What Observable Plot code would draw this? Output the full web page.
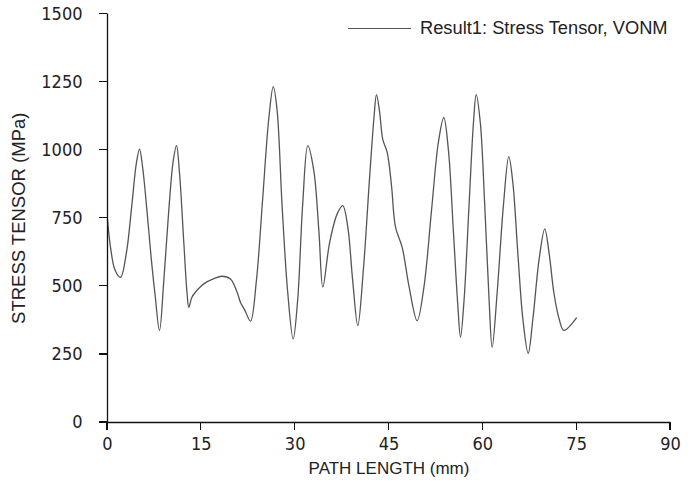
<!DOCTYPE html>
<html><head><meta charset="utf-8">
<script src="https://cdn.jsdelivr.net/npm/d3@7"></script>
<script src="https://cdn.jsdelivr.net/npm/@observablehq/plot@0.6"></script>
<style>
body{margin:0;background:#fff;}
#wrap{position:relative;width:692px;height:486px;}
#legend{position:absolute;left:348px;top:18px;height:20px;font-size:18.3px;font-family:"Liberation Sans",Arial,sans-serif;color:#222;display:flex;align-items:center;white-space:nowrap;}
#legend .sw{display:inline-block;width:63px;height:0;border-top:1.3px solid #555;margin-right:9px;}
</style></head><body>
<div id="wrap"><div id="legend"><span class="sw"></span><span id="legtext"></span></div></div>
<script>
const seriesName = "Result1: Stress Tensor, VONM";
const xTitle = "PATH LENGTH (mm)";
const yTitle = "STRESS TENSOR (MPa)";
const xTicks = [0, 15, 30, 45, 60, 75, 90];
const yTicks = [0, 250, 500, 750, 1000, 1250, 1500];
const pathLength = [0,0.5,1.2,2.08,3.0,3.9,4.6,5.12,5.6,6.3,7.0,7.6,8.31,9.0,9.8,10.5,11.03,11.5,12.2,12.7,13.0,13.5,14.5,15.4,17.0,18.33,19.66,20.73,21.26,22.0,22.86,23.8,24.8,25.8,26.5,27.1,27.9,28.8,29.68,30.4,31.2,32.02,32.98,33.8,34.42,35.5,36.72,37.61,38.4,39.2,40.01,40.9,41.9,42.6,43.0,43.5,44.0,44.71,45.4,46.04,47.11,48.2,49.5,50.6,51.8,52.9,53.76,54.5,55.3,56.0,56.43,57.0,57.8,58.5,58.94,59.6,60.3,61.0,61.49,62.3,63.3,64.15,64.8,65.6,66.4,67.25,68.0,69.0,69.9,70.6,71.4,72.2,72.94,74.97];
const stress = [745,640,560,533,620,800,950,1004,940,780,600,470,338,520,780,960,1017,920,660,480,423,460,490,509,528,537,527,478,441,410,372,520,820,1120,1233,1150,800,480,307,450,800,1017,925,700,497,660,766,796,720,520,356,560,900,1120,1204,1140,1040,992,870,717,643,500,374,500,780,1030,1120,1000,700,430,313,450,800,1100,1204,1100,800,450,276,480,800,976,880,620,380,254,380,600,711,620,470,380,338,384];

const data = pathLength.map((x, i) => ({x, y: stress[i]}));
document.getElementById("legtext").textContent = seriesName;

const tickFont = '"Liberation Sans Narrow","DejaVu Sans Condensed","Arial Narrow",sans-serif';
const titleFont = '"Liberation Sans",Arial,sans-serif';

const chart = Plot.plot({
  width: 692,
  height: 486,
  marginLeft: 107,
  marginRight: 22,
  marginTop: 13.5,
  marginBottom: 64,
  style: {fontFamily: tickFont, fontSize: "18px", background: "#fff", color: "#222"},
  x: {domain: [0, 90]},
  y: {domain: [0, 1500]},
  marks: [
    Plot.line(data, {x: "x", y: "y", curve: "catmull-rom", stroke: "#555", strokeWidth: 1.3}),
    Plot.axisX({ticks: xTicks, tickSize: 0, tickPadding: 15, label: null, tickFormat: d => String(d), fontSize: 18}),
    Plot.axisY({ticks: yTicks, tickSize: 0, tickPadding: 25, label: null, tickFormat: d => String(d), fontSize: 18}),
    Plot.ruleY([0], {stroke: "#111", strokeWidth: 1.3}),
    Plot.ruleX([0], {stroke: "#111", strokeWidth: 1.3}),
    Plot.text([xTitle], {frameAnchor: "bottom", lineAnchor: "middle", textAnchor: "middle", dy: 46, fontSize: 17, fontFamily: titleFont, fill: "#222"}),
    Plot.text([yTitle], {frameAnchor: "left", lineAnchor: "middle", textAnchor: "middle", rotate: -90, dx: -88, fontSize: 18.5, fontFamily: titleFont, fill: "#222"})
  ]
});

// outward tick marks, positioned through Plot's own scales
const sx = chart.scale("x"), sy = chart.scale("y");
const svg = d3.select(chart.tagName.toLowerCase() === "svg" ? chart : chart.querySelector("svg"));
const g = svg.append("g").attr("stroke", "#111").attr("stroke-width", 1.3).attr("shape-rendering", "crispEdges");
g.selectAll("line.xt").data(xTicks).join("line").attr("class", "xt")
  .attr("x1", d => sx.apply(d)).attr("x2", d => sx.apply(d))
  .attr("y1", sy.apply(0)).attr("y2", sy.apply(0) + 8);
g.selectAll("line.yt").data(yTicks).join("line").attr("class", "yt")
  .attr("x1", sx.apply(0) - 8).attr("x2", sx.apply(0))
  .attr("y1", d => sy.apply(d)).attr("y2", d => sy.apply(d));

document.getElementById("wrap").prepend(chart);
</script>
</body></html>
